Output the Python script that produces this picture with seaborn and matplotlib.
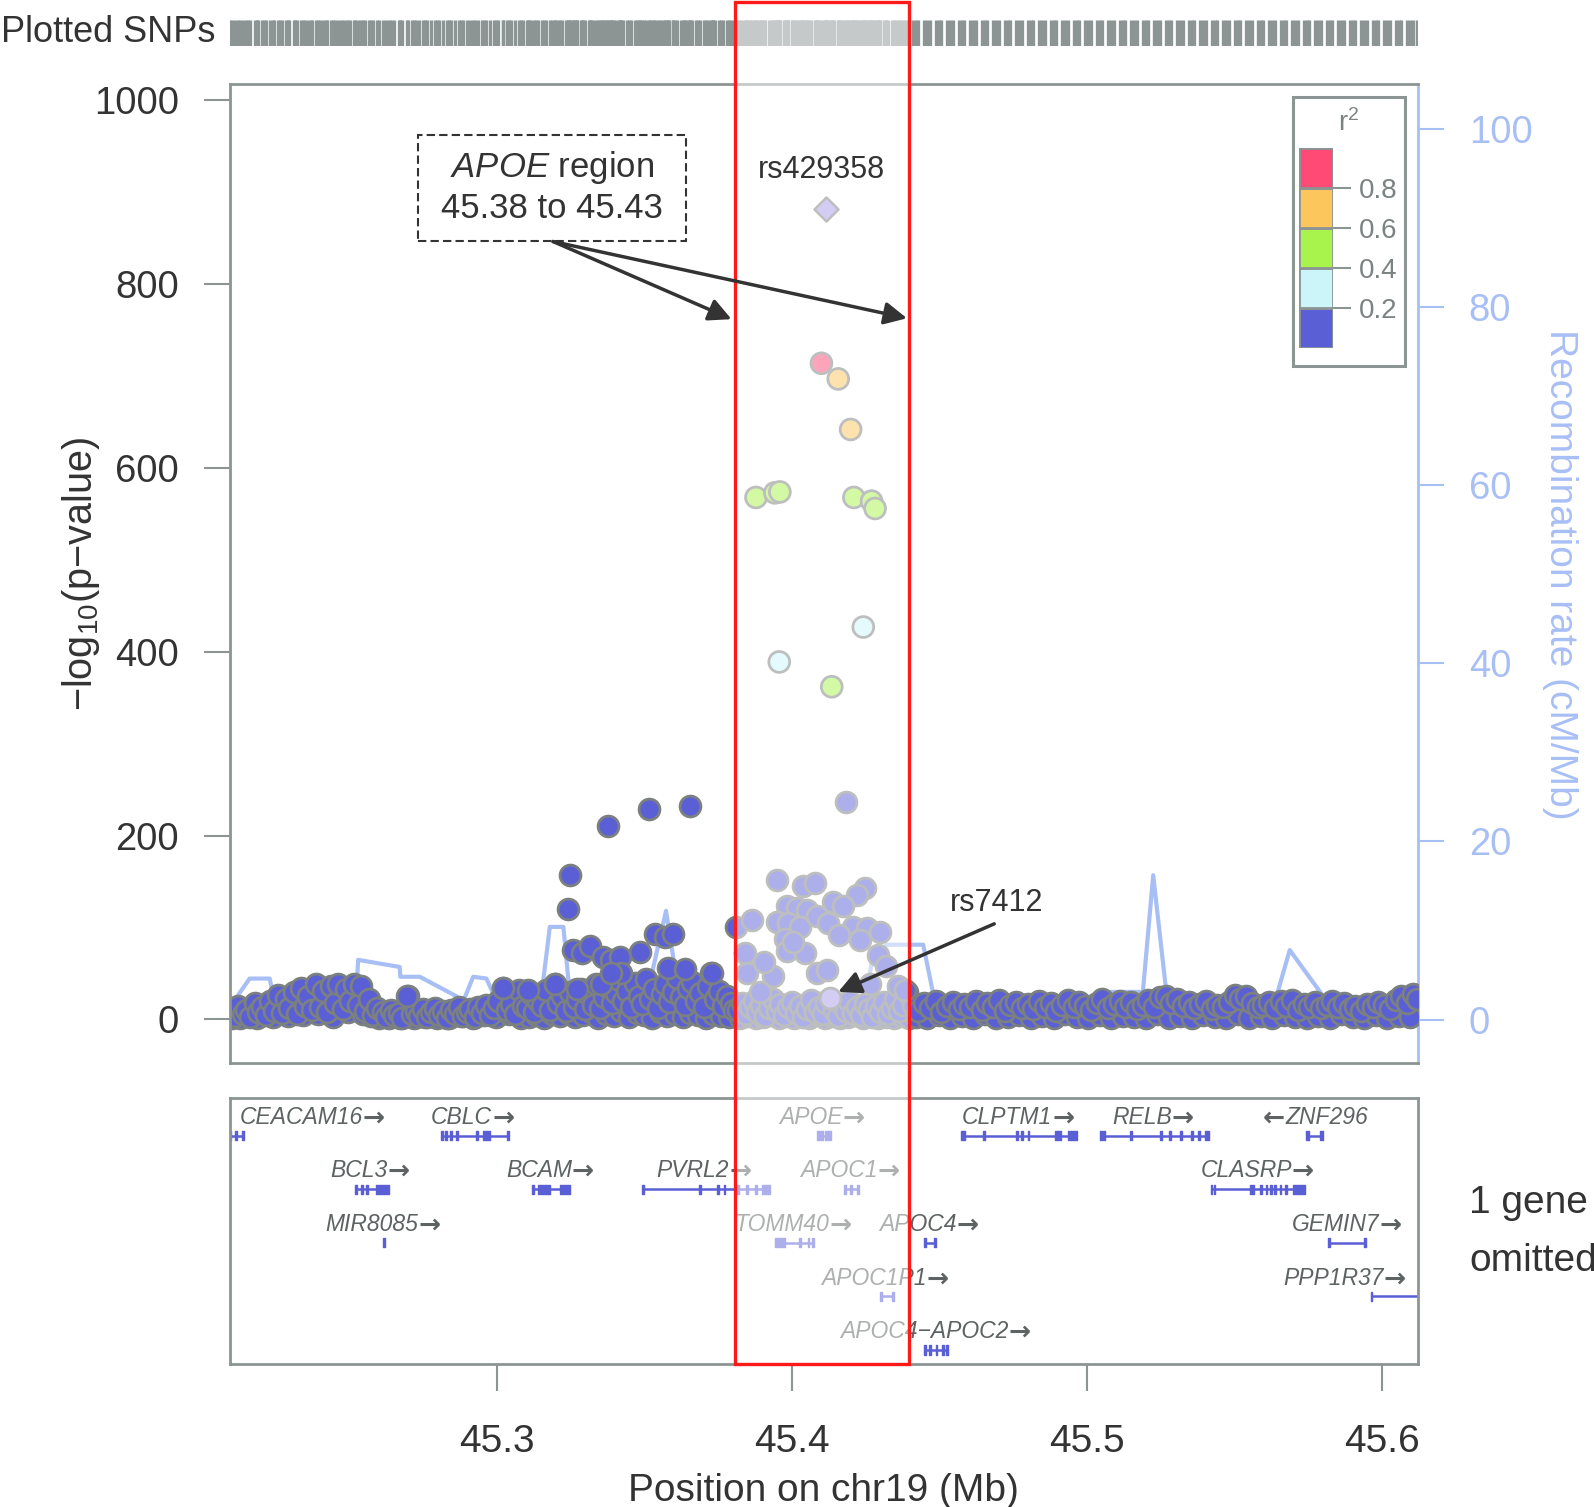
import matplotlib
matplotlib.use("Agg")
import numpy as np
import seaborn as sns
import matplotlib.pyplot as plt
from matplotlib.patches import Rectangle
from matplotlib import transforms

# ---- SNPs in the low band (r2 < 0.2) ----
band_pos = [
    45.2095, 45.2110, 45.2122, 45.2138, 45.2150, 45.2163, 45.2178, 45.2190, 45.2204, 45.2218,
    45.2231, 45.2245, 45.2257, 45.2270, 45.2284, 45.2296, 45.2310, 45.2322, 45.2336, 45.2349,
    45.2360, 45.2374, 45.2386, 45.2399, 45.2411, 45.2425, 45.2437, 45.2450, 45.2462, 45.2476,
    45.2488, 45.2501, 45.2514, 45.2527, 45.2540, 45.2553, 45.2566, 45.2580, 45.2593,
    45.2612, 45.2625, 45.2640, 45.2652, 45.2666, 45.2679, 45.2698, 45.2710, 45.2724, 45.2737,
    45.2750, 45.2764, 45.2777, 45.2790, 45.2804, 45.2817, 45.2830, 45.2843, 45.2857, 45.2870,
    45.2884, 45.2897, 45.2910, 45.2924, 45.2937, 45.2950, 45.2964, 45.2977, 45.2990, 45.3004,
    45.3021, 45.3034, 45.3047, 45.3060, 45.3074, 45.3088,
    45.3101, 45.3114, 45.3127, 45.3140, 45.3153, 45.3166, 45.3180, 45.3196, 45.3208, 45.3221,
    45.3234, 45.3247, 45.3260, 45.3272, 45.3285, 45.3298, 45.3311, 45.3324, 45.3337, 45.3350,
    45.3363, 45.3376, 45.3389, 45.3402, 45.3415, 45.3428, 45.3441, 45.3454, 45.3467, 45.3480,
    45.3493, 45.3506, 45.3519, 45.3532, 45.3545, 45.3558, 45.3571, 45.3584, 45.3597, 45.3610,
    45.3623, 45.3636, 45.3649, 45.3662, 45.3675, 45.3688, 45.3701, 45.3714, 45.3727, 45.3740,
    45.3753, 45.3766, 45.3779, 45.3792, 45.3805,
    45.3818, 45.3831, 45.3844, 45.3857, 45.3870, 45.3883, 45.3896, 45.3909, 45.3922, 45.3935,
    45.3948, 45.3961, 45.3974, 45.3987, 45.4000, 45.4013, 45.4026, 45.4039, 45.4052, 45.4065,
    45.4078, 45.4091, 45.4104, 45.4117, 45.4143, 45.4156, 45.4169, 45.4182, 45.4195, 45.4208,
    45.4221, 45.4234, 45.4247, 45.4260, 45.4273, 45.4286, 45.4299, 45.4312, 45.4325, 45.4338,
    45.4351, 45.4364, 45.4377, 45.4390,
    45.4410, 45.4428, 45.4449, 45.4467, 45.4488, 45.4506, 45.4527, 45.4545, 45.4566, 45.4584,
    45.4605, 45.4623, 45.4644, 45.4662, 45.4683, 45.4701, 45.4722, 45.4740, 45.4761, 45.4779,
    45.4800, 45.4818, 45.4839, 45.4857, 45.4878, 45.4896, 45.4917, 45.4935, 45.4956, 45.4974,
    45.4995, 45.5013, 45.5034, 45.5052, 45.5073, 45.5091, 45.5112, 45.5130, 45.5151, 45.5169,
    45.5190, 45.5208, 45.5229, 45.5247, 45.5268, 45.5286, 45.5307, 45.5325, 45.5346, 45.5364,
    45.5385, 45.5403, 45.5424, 45.5442, 45.5463, 45.5481, 45.5502, 45.5520, 45.5541, 45.5559,
    45.5580, 45.5598, 45.5619, 45.5637, 45.5658, 45.5676, 45.5697, 45.5715, 45.5736, 45.5754,
    45.5775, 45.5793, 45.5814, 45.5832, 45.5853, 45.5871, 45.5892, 45.5910, 45.5931, 45.5949,
    45.5970, 45.5988, 45.6009, 45.6027, 45.6048, 45.6066, 45.6087, 45.6105, 45.6120,
]
band_logp = [
    12, 4, 15, 6, 10, 3, 18, 8, 14, 5,
    20, 9, 27, 7, 22, 12, 30, 6, 34, 15,
    25, 10, 39, 14, 31, 8, 36, 18, 38, 11,
    33, 20, 39, 16, 36, 9, 22, 5, 12,
    8, 3, 10, 5, 7, 2, 25, 6, 9, 4,
    11, 3, 8, 12, 5, 9, 2, 10, 6, 13,
    4, 8, 11, 3, 14, 7, 16, 5, 12, 20,
    34, 10, 17, 6, 32, 15,
    12, 28, 8, 20, 15, 32, 10, 38, 18, 25,
    9, 30, 14, 22, 33, 11, 27, 16, 38, 12,
    24, 35, 18, 29, 43, 20, 31, 14, 40, 26,
    17, 44, 22, 33, 12, 28, 38, 19, 30, 45,
    24, 16, 34, 41, 20, 29, 13, 36, 51, 22,
    31, 15, 25, 18, 10,
    10, 18, 6, 14, 20, 8, 16, 4, 12, 22,
    9, 17, 5, 13, 19, 7, 15, 3, 11, 21,
    8, 14, 6, 18, 10, 4, 16, 9, 20, 7,
    13, 5, 17, 11, 3, 15, 8, 19, 6, 12,
    22, 9, 16, 30,
    16, 9, 18, 12, 20, 8, 15, 19, 11, 17,
    14, 20, 10, 18, 13, 21, 9, 16, 19, 12,
    17, 11, 20, 14, 18, 9, 16, 21, 13, 19,
    15, 10, 18, 22, 12, 17, 20, 14, 19, 11,
    16, 21, 13, 24, 26, 18, 22, 15, 19, 12,
    17, 20, 11, 16, 14, 19, 27, 22, 26, 18,
    13, 16, 19, 12, 20, 15, 21, 10, 17, 14,
    19, 12, 16, 20, 14, 18, 11, 15, 9, 17,
    13, 19, 16, 11, 21, 25, 18, 28, 22,
]
floor_pos = [
    45.2102, 45.2130, 45.2157, 45.2185, 45.2211, 45.2240, 45.2265, 45.2291, 45.2316, 45.2343,
    45.2368, 45.2393, 45.2419, 45.2444, 45.2470, 45.2495, 45.2520, 45.2547, 45.2573, 45.2600,
    45.2632, 45.2672, 45.2717, 45.2757, 45.2797, 45.2837, 45.2877, 45.2917, 45.2957, 45.2997,
    45.3040, 45.3080,
    45.3107, 45.3133, 45.3160, 45.3188, 45.3214, 45.3240, 45.3266, 45.3292, 45.3318, 45.3344,
    45.3370, 45.3396, 45.3422, 45.3448, 45.3474, 45.3500, 45.3526, 45.3552, 45.3578, 45.3604,
    45.3630, 45.3656, 45.3682, 45.3708, 45.3734, 45.3760, 45.3786,
    45.3825, 45.3851, 45.3877, 45.3903, 45.3929, 45.3955, 45.3981, 45.4007, 45.4033, 45.4059,
    45.4085, 45.4111, 45.4137, 45.4163, 45.4189, 45.4215, 45.4241, 45.4267, 45.4293, 45.4319,
    45.4345, 45.4371, 45.4397,
    45.4419, 45.4458, 45.4497, 45.4536, 45.4575, 45.4614, 45.4653, 45.4692, 45.4731, 45.4770,
    45.4809, 45.4848, 45.4887, 45.4926, 45.4965, 45.5004, 45.5043, 45.5082, 45.5121, 45.5160,
    45.5199, 45.5238, 45.5277, 45.5316, 45.5355, 45.5394, 45.5433, 45.5472, 45.5511, 45.5550,
    45.5589, 45.5628, 45.5667, 45.5706, 45.5745, 45.5784, 45.5823, 45.5862, 45.5901, 45.5940,
    45.5979, 45.6018, 45.6057, 45.6096,
]
floor_logp = [
    2, 1, 5, 2, 7, 3, 10, 4, 14, 5, 18, 6, 20, 3, 24, 8, 21, 6, 4, 2,
    1, 2, 1, 3, 2, 1, 4, 2, 5, 3, 6, 2,
    3, 5, 2, 6, 4, 7, 3, 5, 8, 2, 6, 4, 9, 3, 7, 5, 2, 8, 4, 6, 3, 7, 5, 2, 6, 4, 3,
    2, 4, 1, 3, 5, 2, 4, 1, 3, 2, 5, 1, 4, 2, 3, 5, 1, 4, 2, 3, 1, 4, 2,
    3, 1, 5, 2, 4, 1, 6, 2, 3, 5, 1, 4, 2, 6, 3, 1, 5, 2, 4, 3,
    1, 6, 2, 4, 1, 5, 3, 2, 6, 1, 4, 2, 5, 3, 1, 4, 2, 6, 3, 1, 5, 2, 4, 3,
]

# ---- elevated SNPs with r2 < 0.2 ----
high_pos = [45.3021, 45.3106, 45.3196, 45.3247, 45.3241, 45.3258, 45.3287, 45.3315, 45.3270,
            45.3354, 45.3360, 45.3388, 45.3417, 45.3422, 45.3484, 45.3377, 45.3515, 45.3654,
            45.3535, 45.3569, 45.3597, 45.3580, 45.3637, 45.3728, 45.3812, 45.3388, 45.2693]
high_logp = [34, 32, 39, 157, 120, 76, 72, 80, 33,
             39, 68, 65, 68, 51, 73, 211, 229, 232,
             93, 90, 93, 56, 55, 51, 101, 50, 25]

# ---- SNPs inside the APOE window (r2 < 0.2) ----
apoe_pos = [45.3863, 45.3950, 45.4038, 45.4078, 45.4248, 45.4219, 45.3982, 45.4016, 45.4050,
            45.4140, 45.4174, 45.3948, 45.3988, 45.4027, 45.4084, 45.4123, 45.4208, 45.4253,
            45.4299, 45.3976, 45.3982, 45.4044, 45.4231, 45.4293, 45.3841, 45.3846, 45.3937,
            45.4084, 45.4118, 45.4265, 45.4360, 45.4183, 45.3905, 45.4005, 45.4160, 45.4320,
            45.3890, 45.4385]
apoe_logp = [108, 152, 145, 148, 143, 135, 123, 121, 119,
             128, 123, 106, 105, 101, 112, 105, 101, 99,
             95, 88, 74, 72, 86, 70, 72, 50, 47,
             50, 54, 39, 36, 237, 62, 84, 92, 58,
             30, 32]

# ---- SNPs in LD with rs429358 ----
ld_pos = [45.4100, 45.4157, 45.4199, 45.3878, 45.3942, 45.3959, 45.4210, 45.4270, 45.4282,
          45.4242, 45.3957, 45.4135]
ld_logp = [714, 697, 642, 568, 573, 574, 568, 564, 556, 427, 389, 362]
ld_r2 = [0.85, 0.70, 0.65, 0.50, 0.50, 0.50, 0.50, 0.45, 0.45, 0.30, 0.30, 0.50]

# ---- labelled SNPs ----
snp_names = ["rs429358", "rs7412"]
snp_pos = [45.4117, 45.4129]
snp_logp = [882, 23]

# ---- recombination rate ----
rec_pos = [45.2094, 45.2161, 45.2229, 45.2240, 45.2300, 45.2380, 45.2450, 45.2522, 45.2529,
           45.2670, 45.2672, 45.2738, 45.2863, 45.2885, 45.2919, 45.2964, 45.2987, 45.3080,
           45.3150, 45.3179, 45.3225, 45.3242, 45.3350, 45.3450, 45.3520, 45.3573, 45.3604,
           45.3680, 45.3740, 45.3850, 45.3950, 45.4050, 45.4150, 45.4250, 45.4271, 45.4321,
           45.4445, 45.4479, 45.4600, 45.4750, 45.4900, 45.5000, 45.5075, 45.5080, 45.5190,
           45.5225, 45.5271, 45.5350, 45.5450, 45.5550, 45.5642, 45.5688, 45.5815, 45.5900,
           45.6000, 45.6123]
rec_rate = [1.4, 4.6, 4.6, 2.9, 2.2, 2.3, 2.2, 2.3, 6.7,
            5.9, 4.8, 4.8, 2.6, 2.0, 4.8, 4.6, 2.9, 2.6,
            2.6, 10.4, 10.4, 4.4, 3.0, 3.5, 4.4, 12.2, 5.6,
            3.5, 3.3, 2.5, 2.0, 2.8, 3.1, 2.6, 6.5, 8.4,
            8.4, 2.9, 1.5, 1.2, 1.0, 1.3, 1.5, 3.1, 3.1,
            16.2, 2.6, 2.0, 1.6, 1.8, 2.5, 7.8, 2.0, 1.2,
            1.0, 0.8]

# ---- genes ----
gene_names = ["CEACAM16", "CBLC", "APOE", "CLPTM1", "RELB", "ZNF296",
              "BCL3", "BCAM", "PVRL2", "APOC1", "CLASRP",
              "MIR8085", "TOMM40", "APOC4", "GEMIN7",
              "APOC1P1", "PPP1R37", "APOC4\u2212APOC2"]
gene_start = [45.2090, 45.2809, 45.4084, 45.4573, 45.5045, 45.5744,
              45.2517, 45.3120, 45.3491, 45.4175, 45.5420,
              45.2615, 45.3942, 45.4449, 45.5819,
              45.4298, 45.5962, 45.4449]
gene_end = [45.2143, 45.3041, 45.4131, 45.4967, 45.5414, 45.5800,
            45.2635, 45.3248, 45.3925, 45.4228, 45.5740,
            45.2620, 45.4074, 45.4490, 45.5947,
            45.4346, 45.6250, 45.4529]
gene_row = [0, 0, 0, 0, 0, 0, 1, 1, 1, 1, 1, 2, 2, 2, 2, 3, 3, 4]
gene_strand = ["+", "+", "+", "+", "+", "-", "+", "+", "+", "+", "+",
               "+", "+", "+", "+", "+", "+", "+"]
gene_label_x = [45.2386, 45.2930, 45.4115, 45.4779, 45.5237, 45.5763,
                45.2582, 45.3192, 45.3714, 45.4209, 45.5590,
                45.2626, 45.4017, 45.4478, 45.5893,
                45.4329, 45.5886, 45.4500]
gene_exons = [
    [(45.2090, 45.2097), (45.2112, 45.2118), (45.2136, 45.2143)],
    [(45.2809, 45.2816), (45.2823, 45.2829), (45.2842, 45.2848), (45.2860, 45.2866),
     (45.2928, 45.2934), (45.2953, 45.2977), (45.3034, 45.3041)],
    [(45.4084, 45.4104), (45.4111, 45.4131)],
    [(45.4573, 45.4588), (45.4649, 45.4655), (45.4761, 45.4767), (45.4776, 45.4782),
     (45.4799, 45.4805), (45.4892, 45.4914), (45.4937, 45.4967)],
    [(45.5045, 45.5051), (45.5055, 45.5061), (45.5147, 45.5153), (45.5249, 45.5255),
     (45.5279, 45.5285), (45.5317, 45.5323), (45.5354, 45.5360), (45.5377, 45.5383),
     (45.5400, 45.5414)],
    [(45.5744, 45.5755), (45.5792, 45.5800)],
    [(45.2517, 45.2524), (45.2539, 45.2545), (45.2557, 45.2563), (45.2589, 45.2635)],
    [(45.3120, 45.3126), (45.3138, 45.3180), (45.3214, 45.3248)],
    [(45.3491, 45.3497), (45.3686, 45.3692), (45.3745, 45.3751), (45.3768, 45.3774),
     (45.3813, 45.3819), (45.3844, 45.3850), (45.3874, 45.3880), (45.3900, 45.3925)],
    [(45.4175, 45.4182), (45.4197, 45.4203), (45.4221, 45.4228)],
    [(45.5420, 45.5426), (45.5430, 45.5436), (45.5552, 45.5567), (45.5587, 45.5593),
     (45.5606, 45.5612), (45.5621, 45.5627), (45.5636, 45.5642), (45.5654, 45.5660),
     (45.5672, 45.5678), (45.5699, 45.5740)],
    [(45.2615, 45.2620)],
    [(45.3942, 45.3975), (45.4025, 45.4031), (45.4053, 45.4059), (45.4068, 45.4074)],
    [(45.4449, 45.4456), (45.4483, 45.4490)],
    [(45.5819, 45.5826), (45.5940, 45.5947)],
    [(45.4298, 45.4305), (45.4339, 45.4346)],
    [(45.5962, 45.5968)],
    [(45.4449, 45.4456), (45.4466, 45.4472), (45.4487, 45.4493), (45.4510, 45.4516),
     (45.4522, 45.4529)],
]

# legend bins
r2_breaks = [0.0, 0.2, 0.4, 0.6, 0.8, 1.0]
r2_colors = ["#5b5fd5", "#ccf5f9", "#a9f44c", "#fdc65c", "#fe4a75"]

region_lo, region_hi = 45.3807, 45.4397
x_ticks = [45.3, 45.4, 45.5, 45.6]
y_ticks = [0, 200, 400, 600, 800, 1000]
rec_ticks = [0, 20, 40, 60, 80, 100]

BLUE = r2_colors[0]
EDGE = "#7b8080"
GRAY = "#8c9494"
REC = "#a8bff5"
DARK = "#333333"
GENE = "#5b5fd5"
GENE_TXT = "#5d6262"
PURPLE = "#a99be8"
ARROW_W = 0.0050  # half width of a strand arrow, in Mb

sns.set_style("white")
plt.rcParams["font.family"] = ["Liberation Sans", "DejaVu Sans"]
plt.rcParams["mathtext.fontset"] = "custom"
plt.rcParams["mathtext.rm"] = "Liberation Sans"
plt.rcParams["mathtext.it"] = "Liberation Sans:italic"

fig = plt.figure(figsize=(15.94, 15.07), dpi=100)

# main association panel
ax = fig.add_axes([0.1442, 0.2944, 0.7454, 0.6496])
ax_rec = ax.twinx()
ax.set_zorder(ax_rec.get_zorder() + 1)
ax.patch.set_visible(False)

sns.lineplot(x=rec_pos, y=rec_rate, ax=ax_rec, color=REC, linewidth=3,
             sort=False, estimator=None)

pt = dict(s=225, edgecolor=EDGE, linewidth=2.0, legend=False, ax=ax)
sns.scatterplot(x=floor_pos, y=floor_logp, color=BLUE, **pt)
sns.scatterplot(x=band_pos, y=band_logp, color=BLUE, **pt)
sns.scatterplot(x=high_pos, y=high_logp, color=BLUE, **pt)
sns.scatterplot(x=apoe_pos, y=apoe_logp, color=BLUE, **pt)
ld_bin = np.digitize(ld_r2, r2_breaks[1:-1])
sns.scatterplot(x=ld_pos, y=ld_logp, hue=ld_bin,
                palette={i: c for i, c in enumerate(r2_colors)}, **pt)
sns.scatterplot(x=snp_pos[1:], y=snp_logp[1:], color=PURPLE, **pt)
sns.scatterplot(x=snp_pos[:1], y=snp_logp[:1], color=PURPLE, marker="D",
                s=150, edgecolor=EDGE, linewidth=1.8, legend=False, ax=ax)

ax.set_xlim(45.2094, 45.6123)
ax.set_ylim(-47.8, 1017.5)
ax_rec.set_ylim(-4.92, 105)
ax.set_xticks([])
ax.set_yticks(y_ticks)
ax.set_xlabel("")
ax.set_ylabel("")
ax_rec.set_ylabel("")
ax.tick_params(axis="y", left=True, length=18.5, width=1.5, color=GRAY, pad=18,
               labelsize=27.5, labelcolor=DARK)
for side in ["left", "top", "bottom"]:
    ax.spines[side].set_color(GRAY)
    ax.spines[side].set_linewidth(2)
ax.spines["right"].set_visible(False)
ax_rec.set_yticks(rec_ticks)
ax_rec.tick_params(axis="y", right=True, length=18.5, width=1.5, color=REC, pad=18,
                   labelsize=27.5, labelcolor=REC)
for side in ["left", "top", "bottom"]:
    ax_rec.spines[side].set_visible(False)
ax_rec.spines["right"].set_color(REC)
ax_rec.spines["right"].set_linewidth(2)

# gene panel
ax_gene = fig.add_axes([0.1442, 0.0949, 0.7454, 0.1765])
for i, name in enumerate(gene_names):
    y = -gene_row[i]
    ax_gene.plot([gene_start[i], gene_end[i]], [y, y], color=GENE, lw=1.8,
                 solid_capstyle="butt")
    ax_gene.broken_barh([(s, e - s) for s, e in gene_exons[i]], (y - 0.085, 0.17),
                        color=GENE)
    if gene_strand[i] == "+":
        t = ax_gene.text(gene_label_x[i] - ARROW_W, y + 0.34, name, ha="center",
                         va="center", fontsize=16.5, fontstyle="italic", color=GENE_TXT)
        ax_gene.annotate("\u2192", xy=(1, 0.45), xycoords=t, ha="left", va="center",
                         fontsize=19, fontweight="bold", family="DejaVu Sans",
                         color=GENE_TXT)
    else:
        t = ax_gene.text(gene_label_x[i] + ARROW_W, y + 0.34, name, ha="center",
                         va="center", fontsize=16.5, fontstyle="italic", color=GENE_TXT)
        ax_gene.annotate("\u2190", xy=(0, 0.45), xycoords=t, ha="right", va="center",
                         fontsize=19, fontweight="bold", family="DejaVu Sans",
                         color=GENE_TXT)
ax_gene.set_xlim(45.2094, 45.6123)
ax_gene.set_ylim(-4.26, 0.70)
ax_gene.set_yticks([])
ax_gene.set_xticks(x_ticks)
ax_gene.set_xticklabels([f"{t:.1f}" for t in x_ticks])
ax_gene.tick_params(axis="x", bottom=True, length=19.4, width=1.5, color=GRAY, pad=24,
                    labelsize=28, labelcolor=DARK)
for side in ax_gene.spines:
    ax_gene.spines[side].set_color(GRAY)
    ax_gene.spines[side].set_linewidth(2)

# plotted SNP strip
all_pos = band_pos + floor_pos + high_pos + apoe_pos + ld_pos + snp_pos
ax_snp = fig.add_axes([0.1442, 0.9697, 0.7454, 0.01685])
ax_snp.vlines(all_pos, 0, 1, color=GRAY, lw=2.4)
ax_snp.set_xlim(45.2094, 45.6123)
ax_snp.set_ylim(0, 1)
ax_snp.axis("off")
ax_snp.text(-0.0118, 0.5, "Plotted SNPs", transform=ax_snp.transAxes, ha="right",
            va="center", fontsize=26, color=DARK)

# axis titles
fig.text(81 / 1594, 1 - 574 / 1507, "\u2212log$_{10}$(p\u2212value)", rotation=90,
         ha="center", va="center", fontsize=28.5, color=DARK)
fig.text(1560 / 1594, 1 - 574 / 1507, "Recombination rate (cM/Mb)", rotation=270,
         ha="center", va="center", fontsize=28, color=REC)
fig.text(823.9 / 1594, 1 - 1501 / 1507, "Position on chr19 (Mb)", ha="center",
         va="baseline", fontsize=28, color=DARK)
fig.text(1469 / 1594, 1 - 1203 / 1507, "1 gene", ha="left", va="center",
         fontsize=28, color=DARK)
fig.text(1469 / 1594, 1 - 1261 / 1507, "omitted", ha="left", va="center",
         fontsize=28, color=DARK)

# r2 legend
fig.add_artist(Rectangle((1292.7 / 1594, 1 - 366 / 1507), 112.3 / 1594, 269.3 / 1507,
                         transform=fig.transFigure, fc="white", ec=GRAY, lw=2.2,
                         zorder=8))
ax_leg = fig.add_axes([1299.3 / 1594, 1 - 348.3 / 1507, 33.4 / 1594, 200 / 1507],
                      zorder=9)
ax_leg.bar([0] * 5, [0.2] * 5, bottom=r2_breaks[:-1], width=1, color=r2_colors,
           edgecolor=GRAY, linewidth=2)
ax_leg.set_xlim(-0.5, 0.5)
ax_leg.set_ylim(0, 1)
ax_leg.set_xticks([])
ax_leg.yaxis.tick_right()
ax_leg.set_yticks(r2_breaks[1:-1])
ax_leg.set_yticklabels([f"{b:.1f}" for b in r2_breaks[1:-1]])
ax_leg.tick_params(axis="y", right=True, length=12.6, width=1.5, color=GRAY, pad=6.5,
                   labelsize=20, labelcolor="#7b8282")
for side in ax_leg.spines:
    ax_leg.spines[side].set_visible(False)
fig.text(1348.3 / 1594, 1 - 123 / 1507, "r$^2$", ha="center", va="center",
         fontsize=20, color="#7b8282", zorder=9)

# APOE window: white wash and red frame
blend = transforms.blended_transform_factory(ax.transData, fig.transFigure)
frame_bottom = 1 - 1364 / 1507
fig.add_artist(Rectangle((region_lo, frame_bottom), region_hi - region_lo,
                         1 - frame_bottom, transform=blend, fc="white", alpha=0.5,
                         lw=0, zorder=5))
fig.add_artist(Rectangle((region_lo, frame_bottom), region_hi - region_lo,
                         1 - frame_bottom - 1.5 / 1507, transform=blend, fill=False,
                         ec="#ff1a1a", lw=2.4, zorder=6))

# annotations on top
ax_top = fig.add_axes(ax.get_position(), zorder=7)
ax_top.set_xlim(45.2094, 45.6123)
ax_top.set_ylim(-47.8, 1017.5)
ax_top.axis("off")
ax_top.patch.set_visible(False)
ax_top.text(45.4100, 924.6, snp_names[0], ha="center", va="center", fontsize=22,
            color=DARK)
ax_top.text(45.4693, 127, snp_names[1], ha="center", va="center", fontsize=22,
            color=DARK)
arrow = dict(arrowstyle="-|>", color=DARK, lw=2.5, mutation_scale=34,
             shrinkA=0, shrinkB=0)
ax_top.annotate("", xy=(45.4157, 30), xytext=(45.4686, 104), arrowprops=arrow)
ax_top.add_patch(Rectangle((45.2731, 847.1), 0.0909, 115.4, fc="white", ec=DARK,
                           lw=1.5, ls=(0, (4, 2))))
ax_top.text(45.3186, 927, r"$\mathit{APOE}$ region", ha="center", va="center",
            fontsize=25, color=DARK)
ax_top.text(45.3186, 882.6, "45.38 to 45.43", ha="center", va="center",
            fontsize=25, color=DARK)
ax_top.annotate("", xy=(45.3795, 762), xytext=(45.3190, 846.5), arrowprops=arrow)
ax_top.annotate("", xy=(45.4390, 763), xytext=(45.3190, 846.5), arrowprops=arrow)

fig.savefig("out.png", dpi=100)
